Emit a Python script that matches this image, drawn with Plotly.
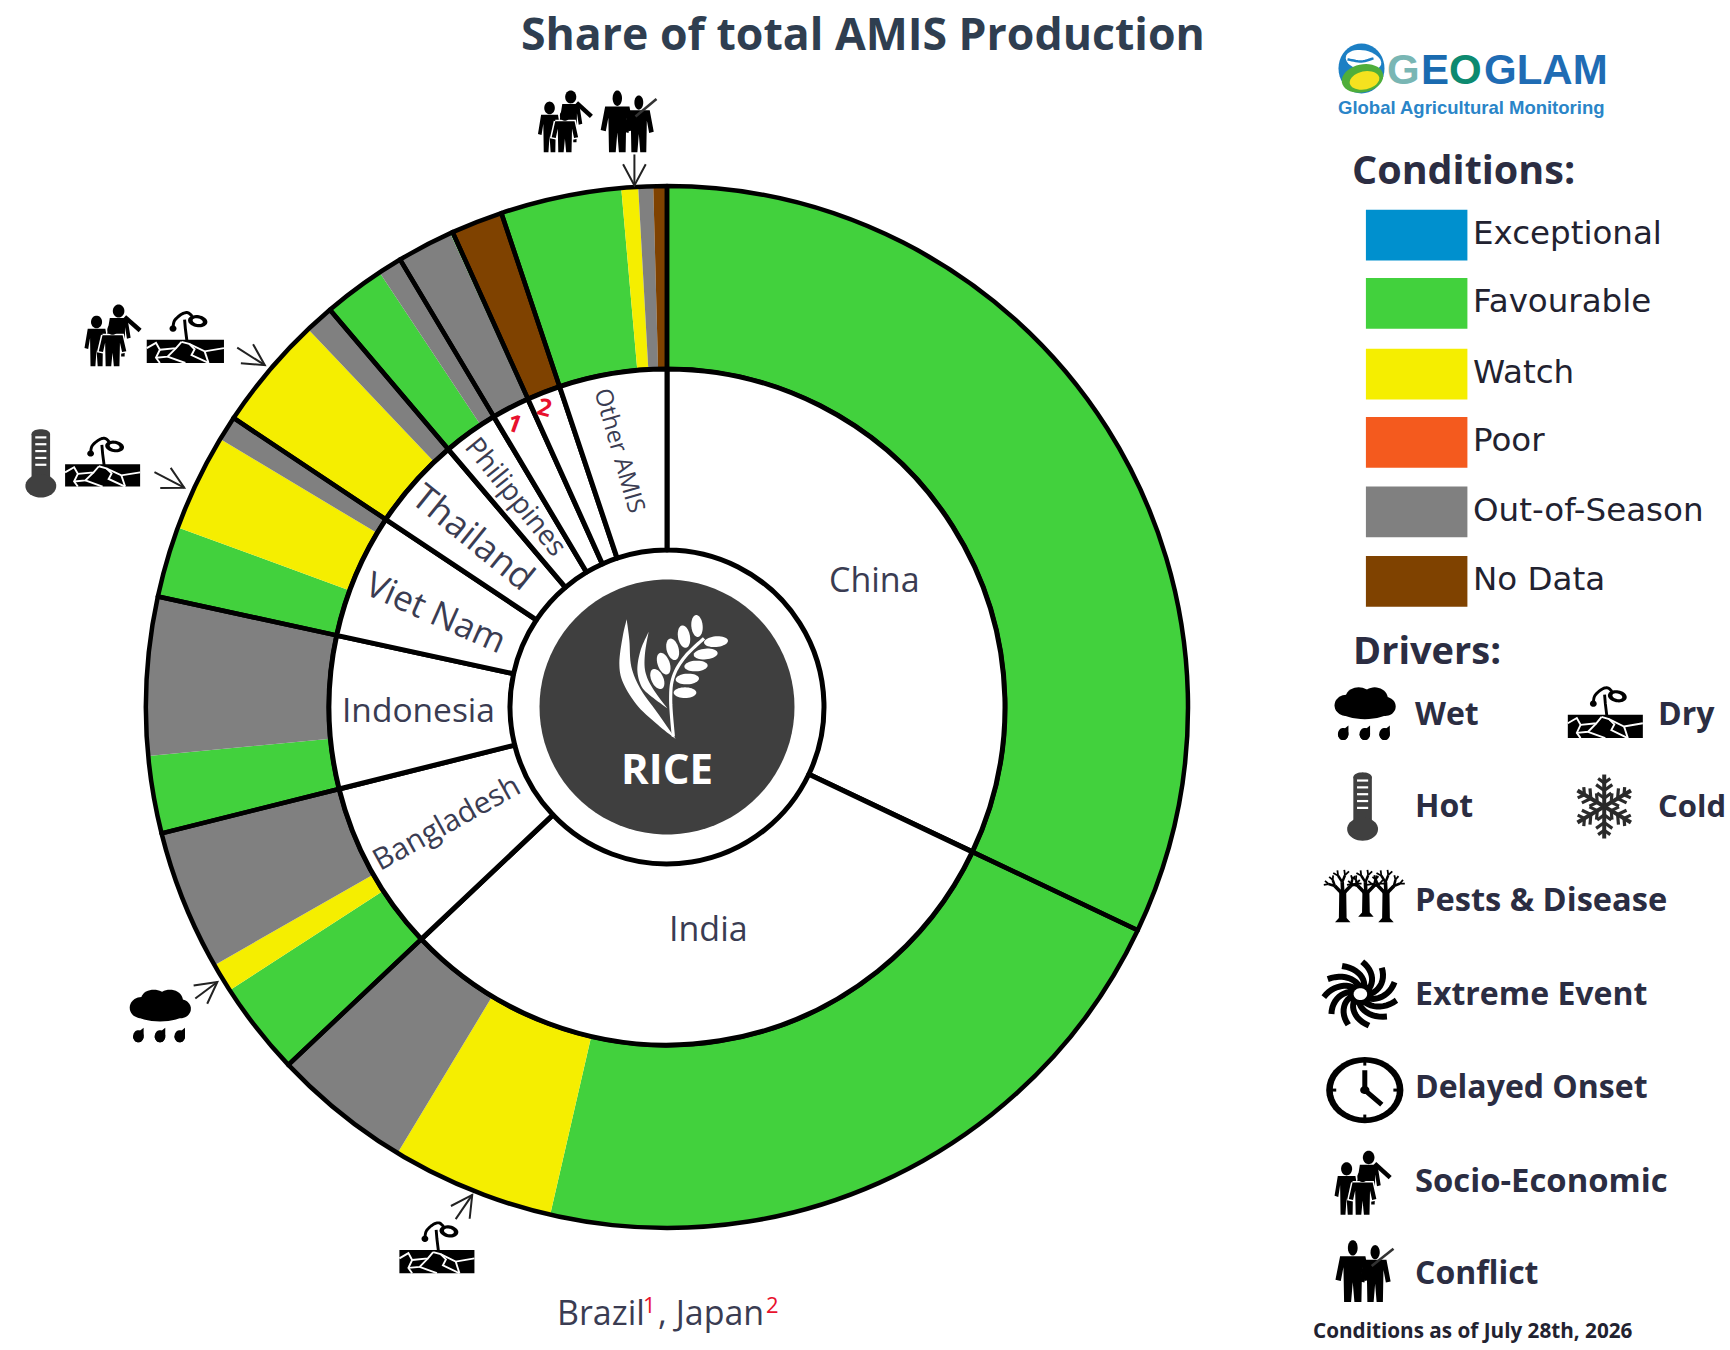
import numpy as np
import plotly.graph_objects as go

# ---------- data (share of total AMIS production, %) ----------
countries = ["China", "India", "Bangladesh", "Indonesia", "Viet Nam", "Thailand",
             "Philippines", "Brazil", "Japan", "Other AMIS"]
china_shares = {"Favourable": 32.05}
india_shares = {"Favourable": 21.55, "Watch": 5.05, "Out-of-Season": 4.3}
bangladesh_shares = {"Favourable": 2.9, "Watch": 0.9, "Out-of-Season": 4.35}
indonesia_shares = {"Favourable": 2.4, "Out-of-Season": 4.9}
vietnam_shares = {"Favourable": 2.2, "Watch": 3.0, "Out-of-Season": 0.76}
thailand_shares = {"Watch": 3.55, "Out-of-Season": 0.89}
philippines_shares = {"Favourable": 1.9, "Out-of-Season": 0.74}
brazil_shares = {"Out-of-Season": 1.73, "Favourable": 0.08}
japan_shares = {"No Data": 1.6}
other_shares = {"Favourable": 3.75, "Watch": 0.52, "Out-of-Season": 0.46, "No Data": 0.42}
all_shares = [china_shares, india_shares, bangladesh_shares, indonesia_shares, vietnam_shares,
              thailand_shares, philippines_shares, brazil_shares, japan_shares, other_shares]
condition_names = ["Exceptional", "Favourable", "Watch", "Poor", "Out-of-Season", "No Data"]
condition_colors = ["#0090CE", "#42D13D", "#F5EE00", "#F45A1E", "#808080", "#7F4200"]

# ---------- geometry ----------
W, H = 1730, 1350
K = W / 1568.0
CX, CY = 667.0, 707.0
R_OUT, R_MID, R_IN, R_DARK = 521.0, 338.0, 157.0, 127.5
INK = "#3a3c52"
DARK = "#2b2d42"
RED = "#e8112d"
FONT = "Open Sans"


def P(x, y):
    return x * K, y * K


shapes, annotations = [], []


def to_path(pts, close=True):
    s = "M " + " L ".join(f"{x:.2f},{y:.2f}" for x, y in pts)
    return s + (" Z" if close else "")


def fill(pts, color="black"):
    shapes.append(dict(type="path", path=to_path(pts), xref="x", yref="y", fillcolor=color,
                       line=dict(width=0, color=color), layer="above"))


def stroke(pts, color="black", lw=2.0):
    shapes.append(dict(type="path", path=to_path(pts, False), xref="x", yref="y",
                       line=dict(width=lw, color=color), layer="above"))


def ell(cx, cy, rx, ry, rot=0.0, n=40):
    t = np.linspace(0, 2 * np.pi, n, endpoint=False)
    a = np.radians(rot)
    xs = rx * np.cos(t)
    ys = ry * np.sin(t)
    return list(zip(cx + xs * np.cos(a) - ys * np.sin(a), cy + xs * np.sin(a) + ys * np.cos(a)))


def smooth(pts, n=8):
    """Catmull-Rom polyline through the given points."""
    p = [pts[0]] + list(pts) + [pts[-1]]
    out = []
    for i in range(1, len(p) - 2):
        p0, p1, p2, p3 = map(np.array, (p[i - 1], p[i], p[i + 1], p[i + 2]))
        for t in np.linspace(0, 1, n, endpoint=False):
            q = .5 * ((2 * p1) + (-p0 + p2) * t + (2 * p0 - 5 * p1 + 4 * p2 - p3) * t ** 2 + (-p0 + 3 * p1 - 3 * p2 + p3) * t ** 3)
            out.append((float(q[0]), float(q[1])))
    out.append(tuple(map(float, pts[-1])))
    return out


def text(x, y, s, size, color=INK, bold=False, angle=0, anchor="center", family=FONT):
    if anchor == "left":
        x -= 3
    annotations.append(dict(x=x, y=y - 2, xref="x", yref="y", text=f"<b>{s}</b>" if bold else s,
                            showarrow=False, xanchor=anchor, yanchor="middle", textangle=angle,
                            font=dict(family=family, size=size, color=color)))


def mapper(cx, cy, w, h):
    cx, cy = P(cx, cy)
    w, h = w * K, h * K
    return lambda pts: [(cx + (u - .5) * w, cy + (v - .5) * h) for u, v in pts], w, h


def uell(u, v, ru, rv, rot=0.0):
    return ell(u, v, ru, rv, rot)


def wet(cx, cy, w, h):
    T, _, _ = mapper(cx, cy, w, h)
    for c in [(.2, .34, .19, .2), (.4, .19, .21, .19), (.66, .2, .21, .2), (.83, .36, .17, .18), (.5, .4, .44, .2)]:
        fill(T(uell(*c)))
    for u in (.15, .5, .82):
        d = uell(u, .88, .085, .115)
        fill(T(d[:21] + [(u + .085, .72)]))
        fill(T(d))


def dry(cx, cy, w, h):
    T, W_, H_ = mapper(cx, cy, w, h)
    fill(T([(0, .56), (1, .56), (1, 1), (0, 1)]))
    lw = max(1.6, W_ / 40)
    cracks = [[(0, .72), (.12, .62), (.17, .75), (.12, .9), (.17, 1)], [(.17, .75), (.38, .72), (.45, .6)],
              [(.38, .72), (.27, .88), (.12, .9)], [(.27, .88), (.5, 1)],
              [(.45, .6), (.55, .64), (.75, .78), (1, .72)], [(.75, .78), (.8, 1)], [(.55, .64), (.62, .74), (.58, .85), (.8, 1)]]
    for c in cracks:
        stroke(T(c), "white", lw)
    sw = max(2.6, W_ / 26)
    stroke(T([(.52, .58), (.5, .35), (.49, .18)]), "black", sw)
    stroke(T(smooth([(.34, .34), (.36, .2), (.45, .08), (.53, .05), (.59, .12)])), "black", sw)
    fill(T(uell(.34, .35, .045, .06)))
    fill(T(uell(.66, .21, .13, .11, 30)))
    fill(T(uell(.66, .21, .07, .05, 30)), "white")


def hot(cx, cy, w, h):
    T, W_, H_ = mapper(cx, cy, w, h)
    c = "#404040"
    fill(T(uell(.5, .07, .3, .07)), c)
    fill(T([(.2, .07), (.8, .07), (.8, .8), (.2, .8)]), c)
    fill(T(uell(.5, .83, .5, .17)), c)
    for v in (.12, .22, .32, .42, .52):
        stroke(T([(.32, v), (.68, v)]), "white", 2.2)


def cold(cx, cy, w, h):
    T, W_, H_ = mapper(cx, cy, w, h)
    c = "#2a2a2a"
    for k in range(6):
        a = np.radians(60 * k + 90)
        d = (np.cos(a), np.sin(a))
        stroke(T([(.5, .5), (.5 + .5 * d[0], .5 + .5 * d[1])]), c, 4)
        for r, b in ((.13, .14), (.25, .16), (.37, .12)):
            for sgn in (-1, 1):
                a2 = a + sgn * np.radians(55)
                stroke(T([(.5 + r * d[0], .5 + r * d[1]),
                          (.5 + r * d[0] + b * np.cos(a2), .5 + r * d[1] + b * np.sin(a2))]), c, 3.2)


def branch(T, u, v, ang, ln, lw, depth):
    u2 = u + ln * np.sin(ang)
    v2 = v - ln * np.cos(ang) * 1.35
    stroke(T([(u, v), (u2, v2)]), "black", lw)
    if depth > 0:
        for da in (-.5, .42):
            branch(T, u2, v2, ang + da, ln * .72, max(1.2, lw * .7), depth - 1)


def pests(cx, cy, w, h):
    T, W_, H_ = mapper(cx, cy, w, h)
    for u, bot in ((.2, 1.0), (.5, .9), (.76, 1.0)):
        fill(T([(u - .045, .42), (u + .045, .42), (u + .05, bot - .08), (u + .1, bot), (u - .1, bot), (u - .05, bot - .08)]))
        branch(T, u - .02, .46, -.75, .12, 3.6, 2)
        branch(T, u + .02, .46, .75, .12, 3.6, 2)
        branch(T, u, .46, -.05, .14, 3.6, 2)


def extreme(cx, cy, w, h):
    T, W_, H_ = mapper(cx, cy, w, h)
    s = np.linspace(0, 1, 12)
    for k in range(11):
        th0 = np.radians(360 / 11 * k)
        r = .12 + .37 * s
        th = th0 - .95 * s
        stroke(T([(.5 + a * np.cos(b), .5 + a * np.sin(b)) for a, b in zip(r, th)]), "black", 6)
    fill(T(uell(.5, .5, .17, .17)))
    fill(T(uell(.5, .5, .09, .09)), "white")


def clock(cx, cy, w, h):
    T, W_, H_ = mapper(cx, cy, w, h)
    fill(T(uell(.5, .5, .5, .5)))
    fill(T(uell(.5, .5, .415, .415)), "white")
    stroke(T([(.5, .2), (.5, .5), (.72, .72)]), "black", 5)
    for p, q in [((.5, .06), (.5, .13)), ((.5, .87), (.5, .94)), ((.06, .5), (.13, .5)), ((.87, .5), (.94, .5))]:
        stroke(T([p, q]), "black", 3)
    fill(T(uell(.5, .5, .06, .06)))


PERSON = [(.12, .26), (.88, .26), (1.02, .64), (.86, .66), (.78, .44), (.76, 1), (.55, 1), (.5, .68),
          (.45, 1), (.24, 1), (.22, .44), (.14, .66), (-.02, .64)]


def person(T, u0, v0, u1, v1, halo=False, ru=.11):
    du, dv = u1 - u0, v1 - v0
    M = lambda pts: T([(u0 + a * du, v0 + b * dv) for a, b in pts])
    if halo:
        stroke(M(PERSON + [PERSON[0]]), "white", 3)
    fill(M(PERSON))
    fill(T(uell(u0 + .5 * du, v0 + .125 * dv, ru, .125 * dv)))


def family(cx, cy, w, h):
    T, _, _ = mapper(cx, cy, w, h)
    person(T, .4, 0, .82, .84, ru=.105)
    stroke(T([(.72, .2), (1.0, .42)]), "black", 4.5)
    person(T, 0, .18, .42, 1, ru=.1)
    person(T, .26, .32, .74, 1, halo=True, ru=.095)


def conflict(cx, cy, w, h):
    T, _, _ = mapper(cx, cy, w, h)
    person(T, 0, 0, .58, 1, ru=.085)
    person(T, .42, .08, .94, 1, ru=.08)
    stroke(T([(.62, .42), (1, .14)]), "#333333", 2.6)


def arrow(x0, y0, x1, y1):
    x0, y0 = P(x0, y0)
    x1, y1 = P(x1, y1)
    a = np.arctan2(y1 - y0, x1 - x0)
    head = 24
    pts = [(x1 + head * np.cos(a + s * 2.65), y1 + head * np.sin(a + s * 2.65)) for s in (-1, 1)]
    stroke([(x0, y0), (x1, y1)], "#222222", 2)
    stroke([pts[0], (x1, y1), pts[1]], "#222222", 2)


# ---------- chart marks ----------
seg_vals, seg_cols, seg_labels = [], [], []
for c, d in zip(countries, all_shares):
    for name, v in d.items():
        seg_vals.append(v)
        seg_cols.append(condition_colors[condition_names.index(name)])
        seg_labels.append(f"{c} - {name}")
totals = [sum(d.values()) for d in all_shares]

domain = dict(x=[(CX - R_OUT) / W, (CX + R_OUT) / W], y=[1 - (CY + R_OUT) / H, 1 - (CY - R_OUT) / H])
domain_in = dict(x=[(CX - R_MID) / W, (CX + R_MID) / W], y=[1 - (CY + R_MID) / H, 1 - (CY - R_MID) / H])
common = dict(sort=False, direction="clockwise", rotation=0, textinfo="none", showlegend=False, hoverinfo="label+value")

fig = go.Figure()
fig.add_trace(go.Scatter(x=[], y=[], showlegend=False))
fig.add_trace(go.Pie(labels=seg_labels, values=seg_vals, domain=domain, hole=R_MID / R_OUT,
                     marker=dict(colors=seg_cols, line=dict(width=0)), **common))
fig.add_trace(go.Pie(labels=countries, values=totals, domain=domain, hole=R_MID / R_OUT,
                     marker=dict(colors=["rgba(0,0,0,0)"] * len(countries), line=dict(width=4.5, color="black")), **common))
fig.add_trace(go.Pie(labels=countries, values=totals, domain=domain_in, hole=R_IN / R_MID,
                     marker=dict(colors=["white"] * len(countries), line=dict(width=5, color="black")), **common))

# ---------- centre emblem ----------
fill(ell(CX, CY, R_DARK, R_DARK, n=90), "#3f3f3f")
Z = lambda pts: [(510 + x / 3, 540 + y / 3) for x, y in pts]
leaf1 = smooth([(350, 238), (358, 300), (364, 380), (392, 448), (440, 515), (497, 597)]) + \
    smooth([(497, 597), (450, 560), (385, 500), (340, 430), (328, 370), (338, 290), (350, 238)])
leaf2 = smooth([(416, 275), (405, 340), (406, 395), (428, 445), (472, 505)]) + \
    smooth([(472, 505), (425, 470), (395, 440), (382, 390), (392, 330), (416, 275)])
fill(Z(leaf1), "white")
fill(Z(leaf2), "white")
stroke(Z(smooth([(490, 590), (482, 480), (490, 410), (525, 350), (582, 295)])), "white", 3.2)
for x, y, rx, ry, rot in [(618, 305, 36, 16, -5), (587, 342, 36, 16, -5), (558, 378, 35, 16, -3), (532, 417, 35, 16, -3), (525, 458, 34, 16, 0),
                          (561, 258, 17, 33, -5), (522, 290, 18, 34, -10), (488, 328, 18, 33, -15), (461, 371, 18, 34, -20), (442, 417, 18, 32, -25)]:
    fill(Z(ell(x, y, rx, ry, rot)), "white")
text(667, 769, "RICE", 42, "white", bold=True)

# ---------- labels on the ring ----------
for (x, y, s, size, ang) in [(793, 527, "China", 34, 0), (642, 843, "India", 34, 0), (404, 746, "Bangladesh", 30, -29),
                             (379, 644, "Indonesia", 33.5, 0), (396, 556, "Viet Nam", 35, 24), (430, 488, "Thailand", 36, 39),
                             (469, 451, "Philippines", 28, 51), (563, 410, "Other AMIS", 24, 74)]:
    px, py = P(x, y)
    text(px, py, s, size, INK, angle=ang)
for (x, y, s, ang) in [(467, 385, "1", 20), (494, 370, "2", 15)]:
    px, py = P(x, y)
    text(px, py, s, 24, RED, bold=True, angle=ang)
for x, y, s, size, col in [(506, 1191, "Brazil", 34, INK), (584, 1184, "1", 22, RED), (597, 1191, ", Japan", 34, INK), (695, 1184, "2", 22, RED)]:
    px, py = P(x, y)
    text(px, py, s, size, col, anchor="left")

# ---------- annotation icons on the chart ----------
family(512, 110, 48, 56); conflict(570, 110, 50, 56); arrow(575, 140, 575, 168)
family(102, 304, 50, 56); dry(168, 305, 70, 48); arrow(215, 315, 240, 331)
hot(37, 420, 28, 62); dry(93, 418, 68, 46); arrow(140, 428, 167, 442)
wet(145, 921, 56, 48); arrow(177, 905, 197, 890)
dry(396, 1130, 68, 48); arrow(413, 1105, 428, 1083)

# ---------- title ----------
px, py = P(782.5, 31)
text(px, py, "Share of total AMIS Production", 44.6, "#2f3e50", bold=True)

# ---------- logo ----------
lx, ly = P(1234, 62)
fill(ell(lx, ly, 23, 25), "#1c7fc4")
fill(ell(lx + 2, ly - 8, 18, 10, 12), "white")
stroke(smooth([(lx - 14, ly - 9), (lx, ly - 7), (lx + 12, ly - 10)]), "#1c7fc4", 2.5)
fill(ell(lx + 1, ly + 10, 21, 14, -12), "#4fae3a")
fill(ell(lx + 3, ly + 12, 15, 9, -12), "#f5e21f")
for x, s, col in [(1258, "G", "#79b6b4"), (1289, "E", "#1a6bb0"), (1314, "O", "#0d8a70"), (1346, "GLAM", "#1f6cb4")]:
    px, py = P(x, 65)
    text(px, py, s, 42, col, bold=True, anchor="left", family="Liberation Sans")
px, py = P(1214, 99)
text(px, py, "Global Agricultural Monitoring", 18.5, "#2a85c8", bold=True, anchor="left", family="Liberation Sans")

# ---------- legend: conditions ----------
px, py = P(1226, 155)
text(px, py, "Conditions:", 39.5, DARK, bold=True, anchor="left")
swatch_tops = [190, 252, 316, 378, 441, 504]
for name, col, top in zip(condition_names, condition_colors, swatch_tops):
    x0, y0 = P(1238, top)
    x1, y1 = P(1330, top + 46)
    fill([(x0, y0), (x1, y0), (x1, y1), (x0, y1)], col)
    px, py = P(1336, top + 23)
    text(px, py, name, 32.5, "#222230", anchor="left", family="DejaVu Sans")

# ---------- legend: drivers ----------
px, py = P(1227, 590)
text(px, py, "Drivers:", 38, DARK, bold=True, anchor="left")
wet(1237, 647, 56, 48); dry(1455, 645, 68, 48); hot(1235, 731, 28, 62); cold(1454, 731, 56, 58)
pests(1238, 811, 70, 50); extreme(1233, 901, 68, 60); clock(1237, 988, 70, 60)
family(1235, 1072, 50, 58); conflict(1237, 1152, 52, 56)
for x, y, s, size in [(1283, 648, "Wet", 32), (1504, 648, "Dry", 32), (1283, 731, "Hot", 32), (1504, 731, "Cold", 31),
                      (1283, 816, "Pests &amp; Disease", 32.6), (1283, 901, "Extreme Event", 32), (1283, 986, "Delayed Onset", 32),
                      (1283, 1071, "Socio-Economic", 32.8), (1283, 1154, "Conflict", 32)]:
    px, py = P(x, y)
    text(px, py, s, size, DARK, bold=True, anchor="left")
px, py = P(1191, 1207)
text(px, py, "Conditions as of July 28th, 2026", 20.7, "#222230", bold=True, anchor="left")

fig.update_layout(width=W, height=H, margin=dict(l=0, r=0, t=0, b=0, pad=0), paper_bgcolor="white", plot_bgcolor="white",
                  xaxis=dict(range=[0, W], visible=False, fixedrange=True, domain=[0, 1]),
                  yaxis=dict(range=[H, 0], visible=False, fixedrange=True, domain=[0, 1]),
                  shapes=shapes, annotations=annotations, showlegend=False)
fig.write_html("out.html", config=dict(displayModeBar=False),
               post_script="document.body.style.margin='0';")
